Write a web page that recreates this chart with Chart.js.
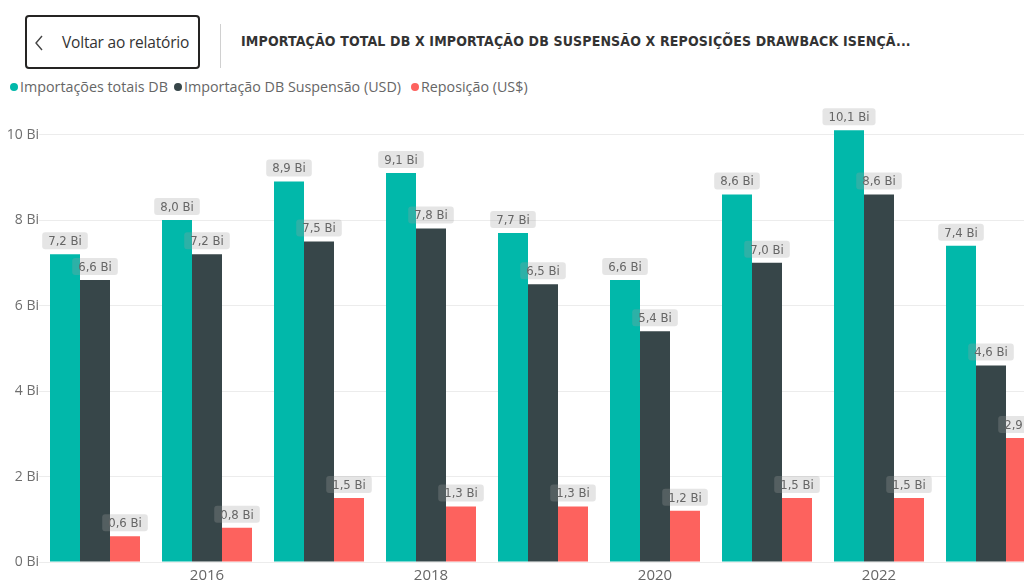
<!DOCTYPE html>
<html>
<head>
<meta charset="utf-8">
<script src="https://cdn.jsdelivr.net/npm/chart.js@4.4.1/dist/chart.umd.min.js"></script>
<style>
  html, body { margin: 0; padding: 0; background: #fff; width: 1024px; height: 580px; overflow: hidden; position: relative; }
  #back {
    position: absolute; left: 25px; top: 15px; width: 171px; height: 50px;
    border: 2px solid #252423; border-radius: 4px; box-sizing: content-box;
    font-family: "Open Sans", sans-serif; font-size: 15.5px; color: #333;
  }
  #back svg { position: absolute; left: 6px; top: 18px; }
  #back span { position: absolute; left: 35px; top: 14px; letter-spacing: -0.2px; }
  #sep { position: absolute; left: 220px; top: 24px; width: 1px; height: 44px; background: #d0d0d0; }
  #title {
    position: absolute; left: 241px; top: 33px; white-space: nowrap;
    font-family: "DejaVu Sans Condensed", "DejaVu Sans", sans-serif; font-weight: bold;
    font-size: 14px; color: #333; letter-spacing: 0.15px;
  }
  #legend { position: absolute; left: 9px; top: 77px; font-family: "Open Sans", sans-serif; font-size: 14.3px; color: #666; white-space: nowrap; }
  #legend .item { position: absolute; top: 0; }
  #legend .dot { display: inline-block; width: 8px; height: 8px; border-radius: 50%; margin-right: 2px; vertical-align: 1px; }
  #wrap { position: absolute; left: 0; top: 92px; width: 1047px; height: 500px; }
</style>
</head>
<body>
<div id="back">
  <svg width="12" height="16" viewBox="0 0 12 16"><polyline points="9,1 3,8 9,15" fill="none" stroke="#444" stroke-width="1.4"/></svg>
  <span>Voltar ao relatório</span>
</div>
<div id="sep"></div>
<div id="title">IMPORTAÇÃO TOTAL DB X IMPORTAÇÃO DB SUSPENSÃO X REPOSIÇÕES DRAWBACK ISENÇÃ...</div>
<div id="legend"></div>
<div id="wrap"><canvas id="chart"></canvas></div>
<script>
var years = ["2015", "2016", "2017", "2018", "2019", "2020", "2021", "2022", "2023"];
var importTotal = [7.2, 8.0, 8.9, 9.1, 7.7, 6.6, 8.6, 10.1, 7.4];
var importSuspensao = [6.6, 7.2, 7.5, 7.8, 6.5, 5.4, 7.0, 8.6, 4.6];
var reposicao = [0.6, 0.8, 1.5, 1.3, 1.3, 1.2, 1.5, 1.5, 2.9];
var seriesNames = ["Importações totais DB", "Importação DB Suspensão (USD)", "Reposição (US$)"];
var colors = ["#01B8AA", "#374649", "#FD625E"];
var legendX = [1, 165, 402];

// legend drawn as html
var lg = document.getElementById("legend");
seriesNames.forEach(function (n, i) {
  var d = document.createElement("span");
  d.className = "item";
  d.style.left = legendX[i] + "px";
  d.innerHTML = '<span class="dot" style="background:' + colors[i] + '"></span>' + n;
  lg.appendChild(d);
});

var fmt = function (v) { return v.toFixed(1).replace(".", ",") + " Bi"; };

var barLabels = {
  id: "barLabels",
  afterDatasetsDraw: function (chart) {
    var ctx = chart.ctx;
    ctx.save();
    ctx.font = '13px "DejaVu Sans Condensed", "DejaVu Sans", sans-serif';
    ctx.textAlign = "center";
    ctx.textBaseline = "middle";
    chart.data.datasets.forEach(function (ds, di) {
      chart.getDatasetMeta(di).data.forEach(function (bar, i) {
        var txt = fmt(ds.data[i]);
        var w = ctx.measureText(txt).width + 12;
        var h = 17;
        var bx = bar.x - w / 2, by = bar.y - 5 - h;
        ctx.fillStyle = "rgba(160,160,160,0.28)";
        ctx.beginPath();
        ctx.roundRect(bx, by, w, h, 3);
        ctx.fill();
        ctx.fillStyle = "#666";
        ctx.fillText(txt, bar.x, by + h / 2 + 1);
      });
    });
    ctx.restore();
  }
};

new Chart(document.getElementById("chart").getContext("2d"), {
  type: "bar",
  data: {
    labels: years,
    datasets: [
      { label: seriesNames[0], data: importTotal, backgroundColor: colors[0] },
      { label: seriesNames[1], data: importSuspensao, backgroundColor: colors[1] },
      { label: seriesNames[2], data: reposicao, backgroundColor: colors[2] }
    ]
  },
  options: {
    responsive: true,
    maintainAspectRatio: false,
    animation: false,
    layout: { padding: 0 },
    datasets: { bar: { categoryPercentage: 90 / 112, barPercentage: 1 } },
    plugins: { legend: { display: false }, tooltip: { enabled: false } },
    scales: {
      x: {
        grid: { display: false },
        border: { display: false },
        ticks: {
          color: "#666", font: { family: "Open Sans", size: 15 }, padding: -3,
          maxRotation: 0, autoSkip: false,
          callback: function (v, i) { return i % 2 === 1 ? years[i] : ""; }
        },
        afterFit: function (s) { s.height = 30; }
      },
      y: {
        min: 0, max: 10.8,
        grid: { color: "#ececec", drawTicks: false },
        border: { display: false },
        ticks: {
          stepSize: 2, padding: 0, color: "#6e6e6e",
          font: { family: "Open Sans", size: 14 },
          callback: function (v) { return v + " Bi"; }
        },
        afterBuildTicks: function (s) { s.ticks = s.ticks.filter(function (t) { return t.value % 2 === 0; }); },
        afterFit: function (s) { s.width = 39; }
      }
    }
  },
  plugins: [barLabels]
});
</script>
</body>
</html>
